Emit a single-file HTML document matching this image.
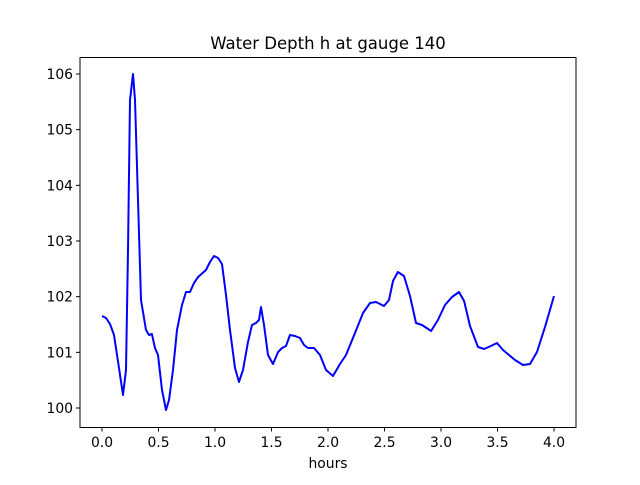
<!DOCTYPE html>
<html><head><meta charset="utf-8"><style>
html,body{margin:0;padding:0;background:#fff;}
svg text{font-family:"DejaVu Sans","Liberation Sans",sans-serif;fill:#000;}
</style></head><body>
<svg id="chart" width="640" height="480" viewBox="0 0 640 480" xmlns="http://www.w3.org/2000/svg">
<rect width="640" height="480" fill="#fff"/>
<text x="328" y="49" font-size="16.5" text-anchor="middle">Water Depth h at gauge 140</text>
<g id="ticks"></g>
<polyline id="series" fill="none" stroke="#0000ff" stroke-width="2" stroke-linejoin="round"/>
<rect x="80" y="57.5" width="496" height="370" fill="none" stroke="#000" stroke-width="1"/>
<text x="328" y="468" font-size="13.9" text-anchor="middle">hours</text>
</svg>
<script>
const hours=[0,0.035,0.071,0.106,0.150,0.186,0.212,0.230,0.248,0.274,0.292,0.319,0.345,0.389,0.416,0.442,0.469,0.496,0.531,0.566,0.593,0.628,0.664,0.708,0.743,0.779,0.814,0.850,0.920,0.956,0.991,1.027,1.062,1.097,1.133,1.177,1.212,1.248,1.292,1.327,1.363,1.389,1.407,1.434,1.469,1.513,1.558,1.593,1.628,1.664,1.708,1.752,1.788,1.823,1.876,1.929,1.982,2.044,2.106,2.159,2.239,2.310,2.372,2.425,2.496,2.540,2.575,2.619,2.673,2.726,2.779,2.832,2.912,2.973,3.035,3.097,3.159,3.204,3.257,3.327,3.381,3.442,3.496,3.549,3.655,3.726,3.788,3.850,3.920,4.000];
const depth=[101.653,101.617,101.509,101.311,100.719,100.234,100.683,102.838,105.533,106.000,105.533,103.736,101.940,101.401,101.311,101.329,101.078,100.952,100.323,99.964,100.144,100.683,101.401,101.850,102.084,102.084,102.245,102.353,102.479,102.623,102.730,102.694,102.587,102.030,101.401,100.719,100.467,100.683,101.186,101.491,101.527,101.581,101.814,101.491,100.952,100.790,101.006,101.078,101.114,101.311,101.293,101.257,101.132,101.078,101.078,100.952,100.683,100.575,100.790,100.952,101.347,101.707,101.886,101.904,101.832,101.940,102.281,102.443,102.371,102.012,101.527,101.491,101.383,101.581,101.850,101.994,102.084,101.922,101.473,101.096,101.060,101.114,101.168,101.042,100.862,100.772,100.790,101.006,101.455,102.012];
const xTicks=[0,0.5,1,1.5,2,2.5,3,3.5,4];
const xTickLabels=["0.0","0.5","1.0","1.5","2.0","2.5","3.0","3.5","4.0"];
const yTicks=[100,101,102,103,104,105,106];
const yTickLabels=["100","101","102","103","104","105","106"];
const X=v=>102+v*113;
const Y=v=>408-(v-100)*55.67;
const NS="http://www.w3.org/2000/svg";
const g=document.getElementById('ticks');
function mk(tag,attrs){const e=document.createElementNS(NS,tag);for(const k in attrs)e.setAttribute(k,attrs[k]);return e;}
xTicks.forEach((t,i)=>{
  const l=mk('line',{x1:X(t),x2:X(t),y1:427.5,y2:431.5,stroke:'#000'});
  
  
  g.appendChild(l);
  const tx=mk('text',{x:X(t),y:447,'font-size':'13.9','text-anchor':'middle'});
  
  
  tx.textContent=xTickLabels[i];g.appendChild(tx);
});
yTicks.forEach((t,i)=>{
  const l=mk('line',{x1:76,x2:80,y1:Y(t),y2:Y(t),stroke:'#000'});
  
  
  g.appendChild(l);
  const tx=mk('text',{x:73,y:Y(t)+5,'font-size':'13.9','text-anchor':'end'});
  
  
  tx.textContent=yTickLabels[i];g.appendChild(tx);
});
document.getElementById('series').setAttribute('points',hours.map((h,i)=>X(h).toFixed(1)+','+Y(depth[i]).toFixed(1)).join(' '));
</script>
</body></html>
